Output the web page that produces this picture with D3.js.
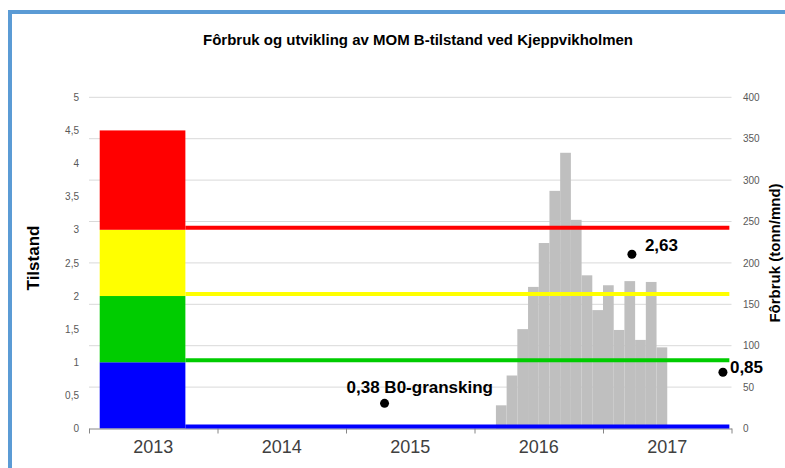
<!DOCTYPE html>
<html>
<head>
<meta charset="utf-8">
<script src="https://cdn.jsdelivr.net/npm/d3@7"></script>
<style>
body { margin: 0; background: #fff; }
text { font-family: "Liberation Sans", Arial, sans-serif; }
</style>
</head>
<body>
<svg width="785" height="468"></svg>
<script>
// data
var years = ["2013", "2014", "2015", "2016", "2017"];
var tilstandTicks = [0, 0.5, 1, 1.5, 2, 2.5, 3, 3.5, 4, 4.5, 5];
var forbrukTicks = [0, 50, 100, 150, 200, 250, 300, 350, 400];

// MOM B classes (tilstand 1-4)
var classLow = [0, 1, 2, 3];
var classHigh = [1, 2, 3, 4.5];
var classColors = ["#0000ff", "#00cc00", "#ffff00", "#ff0000"];

// monthly feed (tonn/mnd), first bar = March 2016 (month 38 counted from Jan 2013)
var feedStart = 38;
var feedValues = [28, 64, 120, 171, 224, 287, 333, 252, 185, 143, 173, 119, 178, 107, 177, 98];

// surveys
var obsMonth = [27.6, 50.7, 59.2];
var obsValue = [0.38, 2.63, 0.85];
var obsLabel = ["0,38 B0-gransking", "2,63", "0,85"];

var svg = d3.select("svg"),
    width = 785,
    height = 468,
    plotLeft = 89,
    plotRight = 731.5,
    plotBottom = 428.5,
    plotTop = 97.3,
    comma = function(d) { return String(d).replace(".", ","); };

var x = d3.scaleLinear().domain([0, 60]).range([plotLeft, plotRight]);
var xYear = d3.scaleBand().domain(years).range([plotLeft, plotRight]);
var yL = d3.scaleLinear().domain([0, 5]).range([plotBottom, plotTop]);
var yR = d3.scaleLinear().domain([0, 400]).range([plotBottom, plotTop]);

// frame
svg.append("path")
    .attr("d", "M10," + height + "V12H" + width)
    .attr("fill", "none")
    .attr("stroke", "#5b9bd5")
    .attr("stroke-width", 4);

// title
svg.append("text")
    .attr("x", 418)
    .attr("y", 45)
    .attr("text-anchor", "middle")
    .style("font-size", "15px")
    .style("font-weight", "bold")
    .text("Fôrbruk og utvikling av MOM B-tilstand ved Kjeppvikholmen");

// gridlines (secondary axis)
svg.append("g")
    .selectAll("line")
    .data(forbrukTicks.slice(1))
    .enter().append("line")
    .attr("x1", plotLeft)
    .attr("x2", plotRight)
    .attr("y1", function(d) { return yR(d); })
    .attr("y2", function(d) { return yR(d); })
    .attr("stroke", "#d9d9d9");

// feed bars
svg.append("g")
    .selectAll("rect")
    .data(feedValues)
    .enter().append("rect")
    .attr("x", function(d, i) { return x(feedStart + i); })
    .attr("width", function(d, i) { return x(feedStart + i + 1) - x(feedStart + i); })
    .attr("y", function(d) { return yR(d); })
    .attr("height", function(d) { return yR(0) - yR(d); })
    .attr("fill", "#bfbfbf");

// class blocks in 2013
svg.append("g")
    .selectAll("rect")
    .data(classLow)
    .enter().append("rect")
    .attr("x", x(1))
    .attr("width", x(9) - x(1))
    .attr("y", function(d, i) { return yL(classHigh[i]); })
    .attr("height", function(d, i) { return yL(d) - yL(classHigh[i]); })
    .attr("fill", function(d, i) { return classColors[i]; });

// x axis
var xAxis = svg.append("g")
    .attr("transform", "translate(0," + plotBottom + ")")
    .call(d3.axisBottom(x).tickValues([0, 12, 24, 36, 48, 60]).tickFormat("").tickSize(5).tickSizeOuter(0));
xAxis.select(".domain").attr("stroke", "#868686");
xAxis.selectAll(".tick line").attr("stroke", "#868686");

var xLabels = svg.append("g")
    .attr("transform", "translate(0," + plotBottom + ")")
    .call(d3.axisBottom(xYear).tickSize(0).tickPadding(12));
xLabels.select(".domain").remove();
xLabels.selectAll("text")
    .style("font-size", "18px")
    .style("font-family", "'Liberation Sans', Arial, sans-serif")
    .attr("fill", "#404040");

// class limit lines
svg.append("g")
    .selectAll("line")
    .data(classLow)
    .enter().append("line")
    .attr("x1", x(9))
    .attr("x2", x(59.8))
    .attr("y1", function(d) { return yL(d) - 2; })
    .attr("y2", function(d) { return yL(d) - 2; })
    .attr("stroke", function(d, i) { return classColors[i]; })
    .attr("stroke-width", 4);

// left axis
var leftAxis = svg.append("g")
    .attr("transform", "translate(82,0)")
    .call(d3.axisLeft(yL).tickValues(tilstandTicks).tickFormat(comma).tickSize(0).tickPadding(3));
leftAxis.select(".domain").remove();
leftAxis.selectAll("text")
    .style("font-size", "10px")
    .style("font-family", "'Liberation Sans', Arial, sans-serif")
    .attr("fill", "#595959");

// right axis
var rightAxis = svg.append("g")
    .attr("transform", "translate(740,0)")
    .call(d3.axisRight(yR).tickValues(forbrukTicks).tickSize(0).tickPadding(3));
rightAxis.select(".domain").remove();
rightAxis.selectAll("text")
    .style("font-size", "10px")
    .style("font-family", "'Liberation Sans', Arial, sans-serif")
    .attr("fill", "#595959");

// axis titles
svg.append("text")
    .attr("transform", "translate(39,258) rotate(-90)")
    .attr("text-anchor", "middle")
    .style("font-size", "17px")
    .style("font-weight", "bold")
    .text("Tilstand");

svg.append("text")
    .attr("transform", "translate(780,253) rotate(-90)")
    .attr("text-anchor", "middle")
    .style("font-size", "15px")
    .style("font-weight", "bold")
    .text("Fôrbruk (tonn/mnd)");

// survey points
var labelDx = [-38, 13, 7],
    labelDy = [-10, -3.5, 0.5];

var obs = svg.append("g")
    .selectAll("g")
    .data(obsValue)
    .enter().append("g");
obs.append("circle")
    .attr("cx", function(d, i) { return x(obsMonth[i]); })
    .attr("cy", function(d) { return yL(d); })
    .attr("r", 4.5)
    .attr("fill", "#000");
obs.append("text")
    .attr("x", function(d, i) { return x(obsMonth[i]) + labelDx[i]; })
    .attr("y", function(d, i) { return yL(d) + labelDy[i]; })
    .style("font-size", "17px")
    .style("font-weight", "bold")
    .text(function(d, i) { return obsLabel[i]; });
</script>
</body>
</html>
